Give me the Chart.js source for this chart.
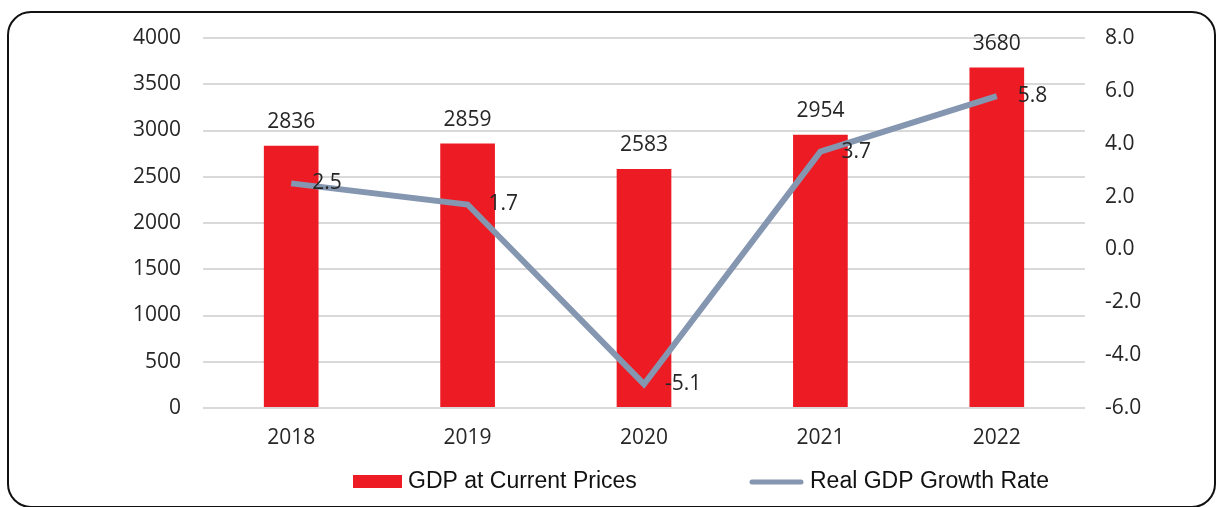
<!DOCTYPE html>
<html>
<head>
<meta charset="utf-8">
<script src="https://cdn.jsdelivr.net/npm/chart.js@4/dist/chart.umd.min.js"></script>
<style>
  html, body { margin: 0; padding: 0; background: #fff; }
  #wrap { position: relative; width: 1220px; height: 507px; }
  #frame {
    position: absolute; left: 7px; top: 11px; width: 1205px; height: 493px;
    border: 2px solid #111; border-radius: 24px; box-sizing: content-box;
  }
  canvas { position: absolute; left: 0; top: 0; }
</style>
</head>
<body>
<div id="wrap">
  <div id="frame"></div>
  <canvas id="gdpChart" width="1220" height="507"></canvas>
</div>
<script>
// values
var years = ['2018', '2019', '2020', '2021', '2022'];
var gdpValues = [2836, 2859, 2583, 2954, 3680];
var growthValues = [2.5, 1.7, -5.1, 3.7, 5.8];
var seriesNames = ['GDP at Current Prices', 'Real GDP Growth Rate'];

var barColor = '#ed1c24';
var lineColor = '#8496b0';
var textColor = '#262626';
var tickFont = { family: 'Open Sans', size: 21 };

// value labels above bars and right of line points
var valueLabels = {
  id: 'valueLabels',
  afterDatasetsDraw: function(chart) {
    var ctx = chart.ctx;
    ctx.save();
    ctx.font = '21px "Open Sans"';
    ctx.fillStyle = textColor;
    ctx.textBaseline = 'middle';

    // dataset 1 = bars
    ctx.textAlign = 'center';
    chart.getDatasetMeta(1).data.forEach(function(el, i) {
      ctx.fillText(String(gdpValues[i]), el.x, el.y - 24);
    });

    // dataset 0 = growth line
    ctx.textAlign = 'left';
    chart.getDatasetMeta(0).data.forEach(function(el, i) {
      ctx.fillText(growthValues[i].toFixed(1), el.x + 21, el.y);
    });
    ctx.restore();
  }
};

// legend drawn by hand under the axis
var bottomLegend = {
  id: 'bottomLegend',
  afterDraw: function(chart) {
    var ctx = chart.ctx;
    var y = 482;
    ctx.save();
    ctx.font = '23px "Liberation Sans"';
    ctx.textBaseline = 'middle';
    ctx.textAlign = 'left';

    ctx.fillStyle = barColor;
    ctx.fillRect(353, 475, 49, 13);
    ctx.fillStyle = '#111';
    ctx.fillText(seriesNames[0], 408, y);

    ctx.strokeStyle = lineColor;
    ctx.lineWidth = 5;
    ctx.lineCap = 'round';
    ctx.beginPath();
    ctx.moveTo(752, y);
    ctx.lineTo(801, y);
    ctx.stroke();
    ctx.fillText(seriesNames[1], 810, y);
    ctx.restore();
  }
};

var ctx = document.getElementById('gdpChart').getContext('2d');
var myChart = new Chart(ctx, {
  data: {
    labels: years,
    datasets: [{
      type: 'line',
      label: seriesNames[1],
      data: growthValues,
      yAxisID: 'y2',
      borderColor: lineColor,
      backgroundColor: lineColor,
      borderWidth: 6,
      pointRadius: 0,
      tension: 0,
      order: 1
    }, {
      type: 'bar',
      label: seriesNames[0],
      data: gdpValues,
      yAxisID: 'y',
      backgroundColor: barColor,
      categoryPercentage: 1,
      barPercentage: 0.31,
      order: 2
    }]
  },
  options: {
    responsive: false,
    animation: false,
    layout: { padding: { top: 38, left: 0, right: 0, bottom: 0 } },
    plugins: {
      legend: { display: false },
      tooltip: { enabled: false }
    },
    scales: {
      x: {
        grid: { display: false, drawTicks: false },
        border: { display: false },
        ticks: { font: tickFont, color: textColor, padding: 17 },
        afterFit: function(scale) { scale.height = 99; }
      },
      y: {
        position: 'left',
        min: 0,
        max: 4000,
        ticks: {
          stepSize: 500, font: tickFont, color: textColor, padding: 22,
          callback: function(v) { return String(v); }
        },
        grid: { color: '#d9d9d9', lineWidth: 2, drawTicks: false },
        border: { display: false },
        afterFit: function(scale) { scale.width = 203; }
      },
      y2: {
        position: 'right',
        min: -6,
        max: 8,
        ticks: {
          stepSize: 2, font: tickFont, color: textColor, padding: 20,
          callback: function(v) { return Number(v).toFixed(1); }
        },
        grid: { display: false, drawTicks: false },
        border: { display: false },
        afterFit: function(scale) { scale.width = 135; }
      }
    }
  },
  plugins: [valueLabels, bottomLegend]
});
</script>
</body>
</html>
